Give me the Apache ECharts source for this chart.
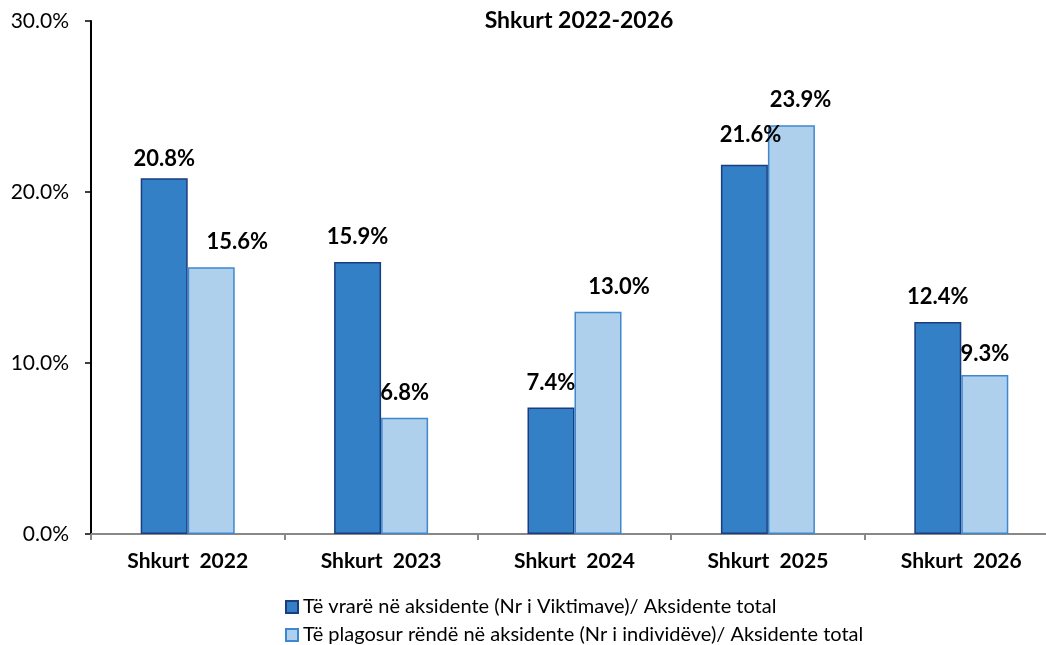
<!DOCTYPE html>
<html>
<head>
<meta charset="utf-8">
<script src="https://cdn.jsdelivr.net/npm/echarts@6/dist/echarts.min.js"></script>
<style>
  html, body { margin: 0; padding: 0; background: #fff; }
  #chart { width: 1046px; height: 645px; }
</style>
</head>
<body>
<div id="chart"></div>
<script>
// Categories and values (percent of total accidents)
const categories = ['Shkurt  2022', 'Shkurt  2023', 'Shkurt  2024', 'Shkurt  2025', 'Shkurt  2026'];
const killedShare = [20.8, 15.9, 7.4, 21.6, 12.4];
const injuredShare = [15.6, 6.8, 13.0, 23.9, 9.3];
const yTicks = [0, 10, 20, 30];
const seriesNames = [
  'Të vrarë në aksidente (Nr i Viktimave)/ Aksidente total',
  'Të plagosur rëndë në aksidente (Nr i individëve)/ Aksidente total'
];
const titleText = 'Shkurt 2022-2026';

// Hand-placed label nudges [dx, dy] per bar, index -> offset
const killedLabelNudge = { 0: [0, 6], 3: [6, -5] };
const injuredLabelNudge = { 0: [26, 0], 2: [21, 0], 3: [9, 0], 4: [0, 4] };

const FONT = 'Lato, "Open Sans", sans-serif';
const pct = v => v.toFixed(1) + '%';

function withLabels(values, nudges) {
  return values.map((v, i) => {
    const item = { value: v };
    if (nudges[i]) item.label = { offset: nudges[i] };
    return item;
  });
}

const labelStyle = {
  show: true,
  position: 'top',
  distance: 14,
  fontFamily: FONT,
  fontWeight: 'bold',
  fontSize: 22,
  color: '#000',
  formatter: p => pct(p.value)
};

const legendText = { fontFamily: FONT, fontSize: 20, color: '#000' };
const legendBase = {
  left: 280,
  itemWidth: 12,
  itemHeight: 12,
  icon: 'rect',
  textStyle: legendText,
  itemGap: 4
};

const chart = echarts.init(document.getElementById('chart'), null, { renderer: 'canvas' });
chart.setOption({
  animation: false,
  backgroundColor: '#fff',
  title: {
    text: titleText,
    left: 574,
    textAlign: 'center',
    top: 4,
    textStyle: { fontFamily: FONT, fontWeight: 'bold', fontSize: 23, color: '#000' }
  },
  legend: [
    Object.assign({ top: 592, data: [seriesNames[0]] }, legendBase),
    Object.assign({ top: 620, data: [seriesNames[1]] }, legendBase)
  ],
  grid: { left: 91, top: 21, width: 967, height: 513, outerBoundsMode: 'none', containLabel: false },
  xAxis: {
    type: 'category',
    data: categories,
    axisLine: { lineStyle: { color: '#888888', width: 2 } },
    axisTick: { show: true, length: 6, lineStyle: { color: '#888888', width: 2 } },
    axisLabel: { fontFamily: FONT, fontWeight: 'bold', fontSize: 21, color: '#000', margin: 17 }
  },
  yAxis: {
    type: 'value',
    min: yTicks[0],
    max: yTicks[yTicks.length - 1],
    interval: yTicks[1] - yTicks[0],
    splitLine: { show: false },
    axisLine: { show: true, lineStyle: { color: '#000', width: 2 } },
    axisTick: { show: true, length: 6, lineStyle: { color: '#000', width: 1.5 } },
    axisLabel: { fontFamily: FONT, fontSize: 21, color: '#000', margin: 22, formatter: v => pct(v) }
  },
  series: [
    {
      name: seriesNames[0],
      type: 'bar',
      barWidth: 47,
      barGap: '0%',
      data: withLabels(killedShare, killedLabelNudge),
      itemStyle: { color: '#3380c6', borderColor: '#1b3d80', borderWidth: 1.5 },
      label: labelStyle
    },
    {
      name: seriesNames[1],
      type: 'bar',
      barWidth: 47,
      barGap: '0%',
      data: withLabels(injuredShare, injuredLabelNudge),
      itemStyle: { color: '#aed0ec', borderColor: '#3f88cf', borderWidth: 1.5 },
      label: labelStyle
    }
  ]
});
</script>
</body>
</html>
